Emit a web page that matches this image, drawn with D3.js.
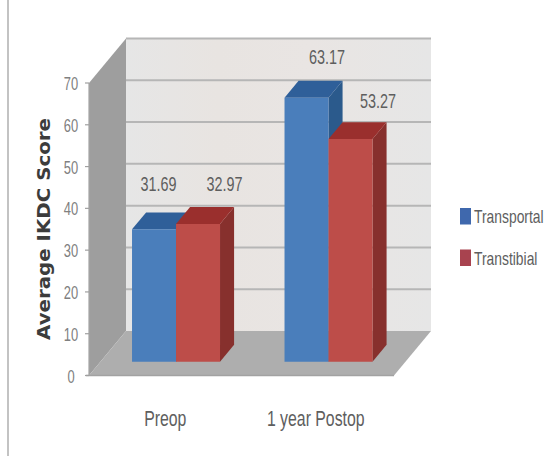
<!DOCTYPE html>
<html>
<head>
<meta charset="utf-8">
<script src="https://cdn.jsdelivr.net/npm/d3@7/dist/d3.min.js"></script>
<style>
  html, body { margin: 0; padding: 0; background: #fff; }
  svg { display: block; }
  text { font-family: "Liberation Sans", sans-serif; }
</style>
</head>
<body>
<svg id="chart" width="553" height="456"></svg>
<script>
// Average IKDC score by surgical technique, drawn as a 3D clustered column chart.
const categories = ["Preop", "1 year Postop"];
const seriesNames = ["Transportal", "Transtibial"];
const transportal = [31.69, 63.17];
const transtibial = [32.97, 53.27];
const yTicks = [0, 10, 20, 30, 40, 50, 60, 70];
const axisTitle = "Average IKDC Score";

const svg = d3.select("#chart");

// Front plane of the box plus the oblique shift to its back plane.
const front = { left: 89, right: 394, bottom: 375.5, top: 83 };
const depthX = 37, depthY = -44.5;
const barDepth = [0.31, 0.69];
const barWidth = 44;

const y = d3.scaleLinear().domain([0, 70]).range([front.bottom, front.top]);
const x0 = d3.scaleBand().domain(categories).range([front.left, front.right]);
const x1 = d3.scaleBand().domain(seriesNames)
  .range([x0.bandwidth() / 2 - barWidth - 0.7, x0.bandwidth() / 2 + barWidth - 0.7]);

const project = (px, value, depth) => [px + depthX * depth, y(value) + depthY * depth];
const polygon = pts => pts.map(p => p.join(",")).join(" ");

const palette = {
  Transportal: { face: "#4a7ebb", top: "#2f5f99", side: "#2b5a8c", key: "#3f68ad" },
  Transtibial: { face: "#bd4d49", top: "#9a2f2d", side: "#87302d", key: "#a8434f" }
};

const textColor = "#5e5e5e";

// The chart's type is a tall, condensed face: squeeze the text horizontally about its anchor.
const squeeze = (px, py, sx) => `translate(${px},${py}) scale(${sx},1)`;

// Gradient for the back wall, slightly warm through the middle.
const grad = svg.append("defs").append("linearGradient").attr("id", "wall");
[[0, "#e6e6e6"], [0.3, "#e8e4e1"], [0.6, "#e9e5e3"], [1, "#e6e6e6"]].forEach(([o, c]) =>
  grad.append("stop").attr("offset", o).attr("stop-color", c));

// Page rule along the left edge.
svg.append("line").attr("x1", 8).attr("x2", 8).attr("y1", 0).attr("y2", 456)
  .attr("stroke", "#b4b4b4").attr("stroke-width", 1.6);

// Back wall, side wall and floor of the box.
svg.append("polygon").attr("fill", "url(#wall)").attr("points", polygon([
  project(front.left, 70, 1), project(front.right, 70, 1),
  project(front.right, 0, 1), project(front.left, 0, 1)]));
svg.append("polygon").attr("fill", "#9e9e9e").attr("points", polygon([
  project(front.left, 70, 0), project(front.left, 70, 1),
  project(front.left, 0, 1), project(front.left, 0, 0)]));
svg.append("polygon").attr("fill", "#aeaeae").attr("points", polygon([
  project(front.left, 0, 0), project(front.right, 0, 0),
  project(front.right, 0, 1), project(front.left, 0, 1)]));

// Gridlines across the back wall.
svg.append("g").selectAll("line").data(yTicks.filter(t => t > 0)).join("line")
  .each(function (t) {
    const a = project(front.left, t, 1), b = project(front.right, t, 1);
    d3.select(this).attr("x1", a[0]).attr("y1", a[1]).attr("x2", b[0]).attr("y2", b[1]);
  })
  .attr("stroke", "#b6b6b6").attr("stroke-width", 2);

// Front edge of the floor and the value axis.
svg.append("line").attr("x1", front.left - 3).attr("x2", front.right)
  .attr("y1", front.bottom).attr("y2", front.bottom)
  .attr("stroke", "#a2a2a2").attr("stroke-width", 1.5);
svg.append("line").attr("x1", front.left).attr("x2", front.left)
  .attr("y1", front.top).attr("y2", front.bottom)
  .attr("stroke", "#a4a4a4").attr("stroke-width", 1.2);

const yAxis = svg.append("g");
yAxis.selectAll("line").data(yTicks).join("line")
  .attr("x1", front.left - 4).attr("x2", front.left)
  .attr("y1", d => y(d)).attr("y2", d => y(d))
  .attr("stroke", "#a0a0a0").attr("stroke-width", 1.2);
yAxis.selectAll("text").data(yTicks).join("text")
  .attr("transform", d => squeeze(71, y(d) + 7, 0.68))
  .attr("text-anchor", "middle").attr("font-size", 19).attr("fill", "#808080")
  .text(d => d);

// Columns: side, top, then front face, series by series so the nearer ones overlap.
const rows = categories.flatMap((c, i) => [
  { category: c, series: seriesNames[0], value: transportal[i] },
  { category: c, series: seriesNames[1], value: transtibial[i] }
]);

rows.forEach(r => {
  const xl = x0(r.category) + x1(r.series);
  const xr = xl + barWidth;
  const [d0, d1] = barDepth;
  const colors = palette[r.series];
  const g = svg.append("g");
  g.append("polygon").attr("fill", colors.side).attr("points", polygon([
    project(xr, r.value, d0), project(xr, r.value, d1),
    project(xr, 0, d1), project(xr, 0, d0)]));
  g.append("polygon").attr("fill", colors.top).attr("points", polygon([
    project(xl, r.value, d0), project(xl, r.value, d1),
    project(xr, r.value, d1), project(xr, r.value, d0)]));
  g.append("polygon").attr("fill", colors.face).attr("points", polygon([
    project(xl, r.value, d0), project(xr, r.value, d0),
    project(xr, 0, d0), project(xl, 0, d0)]));
});

// Value labels, nudged by hand from each column's centre so they clear the tops.
const labelNudges = [[16, -52], [38, -47], [32, -48], [39, -45]];
svg.append("g").selectAll("text").data(rows).join("text")
  .attr("transform", (r, i) => squeeze(
    x0(r.category) + x1(r.series) + barWidth / 2 + labelNudges[i][0],
    y(r.value) + labelNudges[i][1], 0.72))
  .attr("text-anchor", "middle").attr("font-size", 20).attr("fill", textColor)
  .text(r => r.value.toFixed(2));

// Category labels.
svg.append("g").selectAll("text").data(categories).join("text")
  .attr("transform", c => squeeze(x0(c) + x0.bandwidth() / 2 - (c === categories[1] ? 2 : 0), 426, 0.72))
  .attr("text-anchor", "middle").attr("font-size", 22).attr("fill", textColor)
  .text(c => c);

// Axis title, stretched to span most of the value axis.
svg.append("text")
  .attr("transform", "translate(50,229) rotate(-90)")
  .attr("text-anchor", "middle")
  .attr("textLength", 222).attr("lengthAdjust", "spacingAndGlyphs")
  .style("font-family", "'DejaVu Sans', sans-serif")
  .attr("font-size", 17).attr("font-weight", "bold").attr("fill", "#3c3c3c")
  .text(axisTitle);

// Legend.
const legend = svg.append("g").selectAll("g").data(seriesNames).join("g")
  .attr("transform", (d, i) => `translate(460,${208 + i * 41.5})`);
legend.append("rect").attr("width", 11).attr("height", 16.5)
  .attr("fill", d => palette[d].key);
legend.append("text").attr("transform", squeeze(14, 15, 0.73))
  .attr("font-size", 19).attr("fill", textColor).text(d => d);
</script>
</body>
</html>
